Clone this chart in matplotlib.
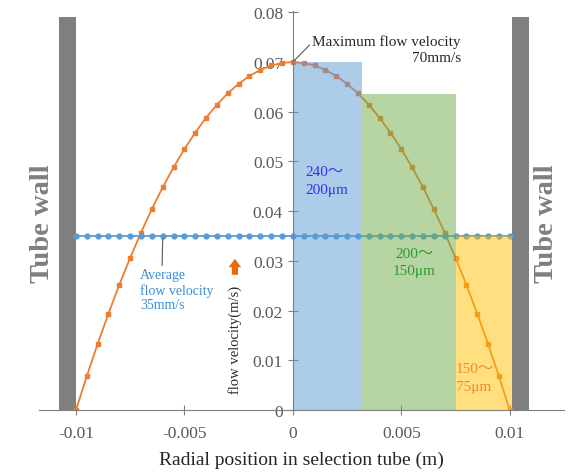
import numpy as np
import matplotlib
matplotlib.use("Agg")
import matplotlib.pyplot as plt

plt.rcParams['font.family'] = ['Liberation Serif', 'Noto Sans CJK JP']

# radial position (m) and flow velocity (m/s)
r = [-0.01, -0.0095, -0.009, -0.0085, -0.008, -0.0075, -0.007, -0.0065, -0.006, -0.0055,
     -0.005, -0.0045, -0.004, -0.0035, -0.003, -0.0025, -0.002, -0.0015, -0.001, -0.0005,
     0.0, 0.0005, 0.001, 0.0015, 0.002, 0.0025, 0.003, 0.0035, 0.004, 0.0045,
     0.005, 0.0055, 0.006, 0.0065, 0.007, 0.0075, 0.008, 0.0085, 0.009, 0.0095, 0.01]
v = [0.0, 0.0068, 0.0133, 0.0194, 0.0252, 0.0306, 0.0357, 0.0404, 0.0448, 0.0488,
     0.0525, 0.0558, 0.0588, 0.0614, 0.0637, 0.0656, 0.0672, 0.0684, 0.0693, 0.0698,
     0.07, 0.0698, 0.0693, 0.0684, 0.0672, 0.0656, 0.0637, 0.0614, 0.0588, 0.0558,
     0.0525, 0.0488, 0.0448, 0.0404, 0.0357, 0.0306, 0.0252, 0.0194, 0.0133, 0.0068, 0.0]
v_avg = [0.035] * len(r)

# particle size bands
band_left = [0.0, 0.0032, 0.0075]
band_width = [0.0032, 0.0043, 0.0026]
band_height = [0.07, 0.0635, 0.035]
band_colors = ['#5B9BD5', '#70AD47', '#FFC000']
band_labels = ['240～\n200μm', '200～\n150μm', '150～\n75μm']

# tube walls
wall_left = [-0.0108, 0.0101]
wall_width = [0.0008, 0.0008]
wall_height = [0.079, 0.079]

yticks = [0, 0.01, 0.02, 0.03, 0.04, 0.05, 0.06, 0.07, 0.08]
ytick_labels = ['0', '0.01', '0.02', '0.03', '0.04', '0.05', '0.06', '0.07', '0.08']
xticks = [-0.01, -0.005, 0, 0.005, 0.01]
xtick_labels = ['-0.01', '-0.005', '0', '0.005', '0.01']

fig = plt.figure(figsize=(5.73, 4.77), dpi=100)
ax = fig.add_axes([0.0682, 0.1384, 0.916, 0.8358])

ax.bar(wall_left, wall_height, wall_width, align='edge', color='#7f7f7f', zorder=1)
ax.plot(r, v, color='#ED7D31', marker='s', markersize=3.5, lw=1.3, zorder=2)
ax.plot(r, v_avg, color='#5B9BD5', marker='o', markersize=3.5, lw=1.3, zorder=2)
ax.bar(band_left, band_height, band_width, align='edge', color=band_colors, alpha=0.5, zorder=3)

ax.set_xlim(-0.0117, 0.0125)
ax.set_ylim(0, 0.0802)
ax.spines['left'].set_position(('data', 0))
ax.spines['left'].set_bounds(0, 0.0802)
for s in ['right', 'top']:
    ax.spines[s].set_visible(False)
for s in ['left', 'bottom']:
    ax.spines[s].set_color('#7f7f7f')
    ax.spines[s].set_zorder(4)
ax.set_yticks(yticks)
ax.set_yticklabels(ytick_labels)
ax.set_xticks(xticks)
ax.set_xticklabels(xtick_labels)
ax.tick_params(direction='inout', length=7, color='#7f7f7f', labelcolor='#595959', labelsize=12.5)
ax.tick_params(axis='x', pad=7)
ax.set_xlabel('Radial position in selection tube (m)', fontsize=14, color='#262626', labelpad=7)

# y label + arrow next to the centre axis
ax.text(-0.00267, 0.0142, 'flow velocity(m/s)', rotation=90, ha='center', va='center',
        fontsize=10.5, color='#262626')
ax.annotate('', xy=(-0.00267, 0.0304), xytext=(-0.00267, 0.0272),
            arrowprops=dict(arrowstyle='simple,head_width=0.9,head_length=0.6,tail_width=0.45',
                            color='#E46C0A', lw=0, shrinkA=0, shrinkB=0))

ax.text(-0.01152, 0.0377, 'Tube wall', rotation=90, ha='center', va='center',
        fontsize=20.5, fontweight='bold', color='#7f7f7f')
ax.text(0.0117, 0.0377, 'Tube wall', rotation=90, ha='center', va='center',
        fontsize=20.5, fontweight='bold', color='#7f7f7f')

ax.annotate('Maximum flow velocity\n70mm/s', xy=(0, 0.07), xytext=(0.0009, 0.0725),
            ha='left', va='center', multialignment='right', fontsize=11, color='#262626',
            linespacing=1.3,
            arrowprops=dict(arrowstyle='-', color='#595959', lw=0.8, shrinkA=0, shrinkB=0,
                            relpos=(0, 0.75)))
ax.annotate('Average\nflow velocity\n35mm/s', xy=(-0.006, 0.0345), xytext=(-0.00705, 0.0285),
            ha='left', va='top', fontsize=10, color='#3A8FD8', linespacing=1.15,
            arrowprops=dict(arrowstyle='-', color='#595959', lw=0.8, shrinkA=0, shrinkB=0,
                            relpos=(0.3, 1)))

ax.text(0.0006, 0.0492, band_labels[0], ha='left', va='top', fontsize=11, color='#3333EE',
        linespacing=1.45)
ax.text(0.0056, 0.0328, band_labels[1], ha='center', va='top', fontsize=11, color='#2E9A2E',
        linespacing=1.45)
ax.text(0.0075, 0.0096, band_labels[2], ha='left', va='top', fontsize=11, color='#F28C28',
        linespacing=1.45)

fig.savefig('out.png', dpi=100)
